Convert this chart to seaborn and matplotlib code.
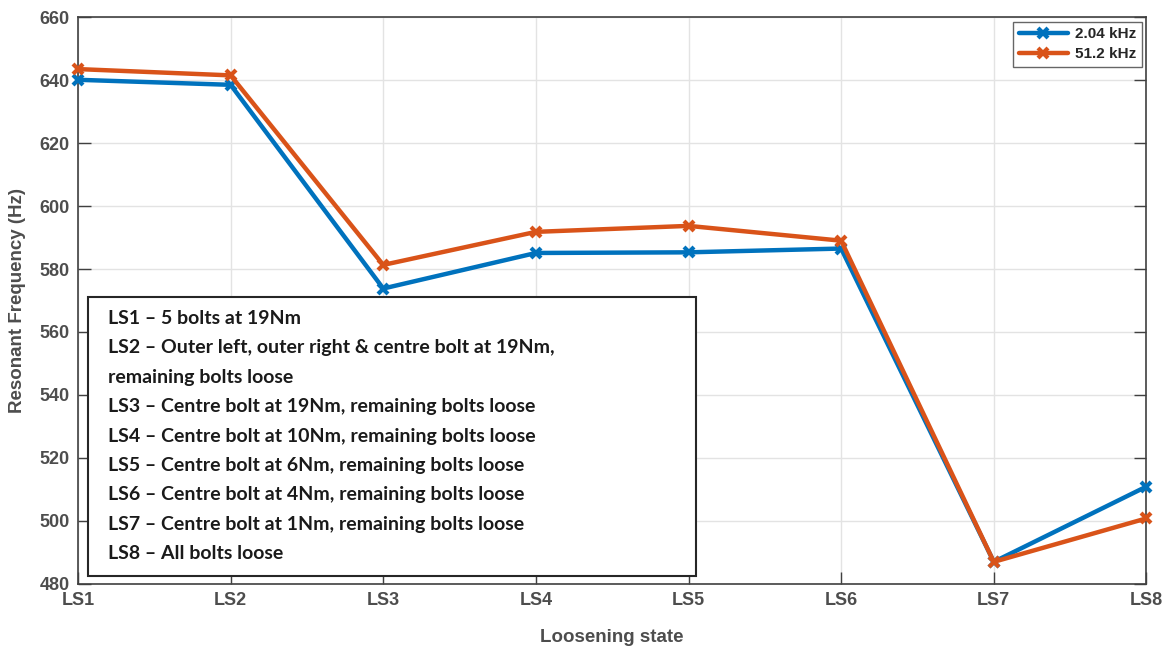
import matplotlib.pyplot as plt
from matplotlib.patches import Rectangle
import pandas as pd
import seaborn as sns

# Data
states = ["LS1", "LS2", "LS3", "LS4", "LS5", "LS6", "LS7", "LS8"]
freq_204 = [640.1, 638.5, 573.8, 585.1, 585.3, 586.5, 487.0, 510.9]
freq_512 = [643.5, 641.5, 581.3, 591.8, 593.7, 589.0, 487.0, 500.8]
series_names = ["2.04 kHz", "51.2 kHz"]

notes = [
    "LS1 \u2013 5 bolts at 19Nm",
    "LS2 \u2013 Outer left, outer right & centre bolt at 19Nm,",
    "remaining bolts loose",
    "LS3 \u2013 Centre bolt at 19Nm, remaining bolts loose",
    "LS4 \u2013 Centre bolt at 10Nm, remaining bolts loose",
    "LS5 \u2013 Centre bolt at 6Nm, remaining bolts loose",
    "LS6 \u2013 Centre bolt at 4Nm, remaining bolts loose",
    "LS7 \u2013 Centre bolt at 1Nm, remaining bolts loose",
    "LS8 \u2013 All bolts loose",
]

BLUE = "#0072BD"
ORANGE = "#D95319"


def main():
    df = pd.DataFrame({
        "state": states * 2,
        "freq": freq_204 + freq_512,
        "series": [series_names[0]] * len(states) + [series_names[1]] * len(states),
    })

    sns.set_theme(style="whitegrid")
    plt.rcParams["font.family"] = ["Liberation Sans", "DejaVu Sans"]

    fig, ax = plt.subplots(figsize=(11.71, 6.59), dpi=100)
    fig.subplots_adjust(left=0.0666, right=0.979, top=0.974, bottom=0.114)

    sns.lineplot(data=df, x="state", y="freq", hue="series", palette=[BLUE, ORANGE],
                 marker="x", markersize=7, markeredgewidth=3, linewidth=3.2,
                 sort=False, ax=ax)
    # x markers need their edge in the line colour
    for line in ax.get_lines():
        line.set_markeredgecolor(line.get_color())
        line.set_clip_on(False)
        line.set_zorder(4)

    ax.set_xlim(0, 7)
    ax.set_ylim(480, 660)
    ax.set_yticks(range(480, 661, 20))
    ax.grid(True, color="#e3e3e3", linewidth=1)
    ax.set_facecolor("white")
    for sp in ax.spines.values():
        sp.set_color("#404040")
        sp.set_linewidth(1.2)
    ax.tick_params(direction="in", length=9, width=1, color="#404040",
                   labelsize=13, labelcolor="#4d4d4d", pad=6,
                   left=True, bottom=True, right=True, top=False)
    for lab in ax.get_xticklabels() + ax.get_yticklabels():
        lab.set_fontweight("bold")

    ax.set_xlabel("Loosening state", fontsize=13.5, fontweight="bold", color="#4d4d4d", labelpad=14)
    ax.set_ylabel("Resonant Frequency (Hz)", fontsize=13.5, fontweight="bold", color="#4d4d4d", labelpad=10)

    leg = ax.legend(loc="upper right", frameon=True, fancybox=False,
                    handlelength=3.2, handletextpad=0.5, borderaxespad=0.3,
                    borderpad=0.35, labelspacing=0.4,
                    prop={"weight": "bold", "size": 11})
    leg.get_frame().set_edgecolor("#404040")
    leg.get_frame().set_linewidth(1)
    for h in leg.get_lines():
        h.set_markeredgecolor(h.get_color())

    # description box
    box = Rectangle((0.0094, 0.014), 0.569, 0.492, transform=ax.transAxes,
                    facecolor="white", edgecolor="#262626", linewidth=1.5, zorder=5)
    ax.add_patch(box)
    y0 = 0.468
    for i, line in enumerate(notes):
        ax.text(0.028, y0 - i * 0.0518, line, transform=ax.transAxes,
                fontsize=14, fontweight="bold", family="Lato", color="#1a1a1a",
                va="center", ha="left", zorder=6)

    fig.savefig("out.png", dpi=100)


if __name__ == "__main__":
    main()
